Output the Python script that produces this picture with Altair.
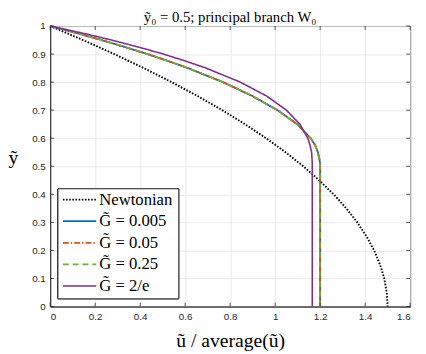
import altair as alt
import pandas as pd

# ---- data ----
series_names = ["Newtonian", "G̃ = 0.005", "G̃ = 0.05", "G̃ = 0.25", "G̃ = 2/e"]

newt_y = [1.0, 0.95, 0.9, 0.85, 0.8, 0.75, 0.7, 0.65, 0.6, 0.55, 0.5,
          0.45, 0.4, 0.35, 0.3, 0.25, 0.2, 0.15, 0.1, 0.05, 0.0]
newt_u = [0.0, 0.146, 0.285, 0.416, 0.54, 0.656, 0.765, 0.866, 0.96, 1.046, 1.125,
          1.196, 1.26, 1.316, 1.365, 1.406, 1.44, 1.466, 1.485, 1.496, 1.5]

g_y = [1.0, 0.975, 0.95, 0.925, 0.9, 0.875, 0.85, 0.8, 0.75, 0.7, 0.65,
       0.6, 0.575, 0.55, 0.525, 0.51, 0.5, 0.0]
g005_u = [0.0, 0.117, 0.228, 0.333, 0.432, 0.525, 0.612, 0.768, 0.9, 1.01, 1.098,
          1.158, 1.178, 1.19, 1.197, 1.199, 1.2, 1.2]
g05_u = [0.0, 0.117, 0.228, 0.333, 0.432, 0.525, 0.612, 0.768, 0.9, 1.01, 1.098,
         1.158, 1.178, 1.19, 1.197, 1.199, 1.2, 1.2]
g25_u = [0.0, 0.118, 0.229, 0.334, 0.433, 0.526, 0.613, 0.769, 0.901, 1.01, 1.097,
         1.157, 1.177, 1.189, 1.196, 1.198, 1.199, 1.199]
g2e_u = [0.0, 0.142, 0.273, 0.393, 0.503, 0.602, 0.693, 0.845, 0.963, 1.05, 1.11,
         1.145, 1.155, 1.162, 1.164, 1.165, 1.165, 1.165]

x_ticks = [0, 0.2, 0.4, 0.6, 0.8, 1.0, 1.2, 1.4, 1.6]
y_ticks = [0, 0.1, 0.2, 0.3, 0.4, 0.5, 0.6, 0.7, 0.8, 0.9, 1.0]

colors = ["#000000", "#0072BD", "#D95319", "#77AC30", "#7E2F8E"]
dashes = [[1.6, 1.6], [1, 0], [6, 2, 1.5, 2], [6, 4], [1, 0]]
widths = [1.9, 1.6, 1.6, 1.6, 2.0]

rows = []
for name, ys, us in [(series_names[0], newt_y, newt_u),
                     (series_names[1], g_y, g005_u),
                     (series_names[2], g_y, g05_u),
                     (series_names[3], g_y, g25_u),
                     (series_names[4], g_y, g2e_u)]:
    for i, (yy, uu) in enumerate(zip(ys, us)):
        rows.append({"series": name, "y": yy, "u": uu, "idx": i})
df = pd.DataFrame(rows)
leg_df = pd.DataFrame({"series": series_names, "row": list(range(len(series_names)))})

W, H = 367, 286
TOP = 15
tick_col = "#262626"

xscale = alt.Scale(domain=[0, 1.6], nice=False, zero=False)
yscale = alt.Scale(domain=[0, 1], nice=False, zero=False)
cscale = alt.Scale(domain=series_names, range=colors)
dscale = alt.Scale(domain=series_names, range=dashes)
wscale = alt.Scale(domain=series_names, range=widths)

x_axis = alt.Axis(values=x_ticks, format=".1~f", title="ũ / average(ũ)", grid=True,
                  tickCount=9)
y_axis = alt.Axis(values=y_ticks, format=".1~f", title="ỹ", grid=True, tickCount=11,
                  labelOverlap=False, titleAngle=0, titleX=-38, titleY=134,
                  titleBaseline="middle", titleAlign="center")

lines = alt.Chart(df).mark_line().encode(
    x=alt.X("u:Q", scale=xscale, axis=x_axis),
    y=alt.Y("y:Q", scale=yscale, axis=y_axis),
    color=alt.Color("series:N", scale=cscale, legend=None),
    strokeDash=alt.StrokeDash("series:N", scale=dscale, legend=None),
    strokeWidth=alt.StrokeWidth("series:N", scale=wscale, legend=None),
    order=alt.Order("idx:Q"),
)

xt = pd.DataFrame({"u": x_ticks})
yt = pd.DataFrame({"y": y_ticks})
xb = alt.Chart(xt).mark_rule(color=tick_col, strokeWidth=0.8).encode(
    x=alt.X("u:Q", scale=xscale, axis=x_axis), y=alt.value(H), y2=alt.value(H - 4))
xtop = alt.Chart(xt).mark_rule(color=tick_col, strokeWidth=0.8).encode(
    x=alt.X("u:Q", scale=xscale, axis=x_axis), y=alt.value(0), y2=alt.value(4))
yl = alt.Chart(yt).mark_rule(color=tick_col, strokeWidth=0.8).encode(
    y=alt.Y("y:Q", scale=yscale, axis=y_axis), x=alt.value(0), x2=alt.value(4))
yr = alt.Chart(yt).mark_rule(color=tick_col, strokeWidth=0.8).encode(
    y=alt.Y("y:Q", scale=yscale, axis=y_axis), x=alt.value(W), x2=alt.value(W - 4))

# legend box, drawn by hand (MATLAB style)
leg_box = alt.Chart(leg_df).mark_rect(fill="white", stroke=tick_col, strokeWidth=0.8).encode(
    x=alt.value(8), x2=alt.value(131), y=alt.value(166), y2=alt.value(278))
leg_base = alt.Chart(leg_df).transform_calculate(ly="177 + 22 * datum.row")
leg_sym = leg_base.mark_rule().encode(
    x=alt.value(13), x2=alt.value(47),
    y=alt.Y("ly:Q", scale=None),
    color=alt.Color("series:N", scale=cscale, legend=None),
    strokeDash=alt.StrokeDash("series:N", scale=dscale, legend=None),
    strokeWidth=alt.StrokeWidth("series:N", scale=wscale, legend=None),
)
leg_txt = leg_base.mark_text(align="left", baseline="middle", font="Liberation Serif",
                             fontSize=17, color="#000000").encode(
    x=alt.value(50), y=alt.Y("ly:Q", scale=None), text="series:N")

chart = alt.layer(lines, xb, xtop, yl, yr, leg_box, leg_sym, leg_txt).properties(
    width=W, height=H,
    title=alt.TitleParams("ỹ₀ = 0.5; principal branch W₀", font="Liberation Serif",
                          fontSize=15, fontWeight="normal", color="#000000",
                          offset=-4),
    autosize=alt.AutoSizeParams(type="none"),
    padding={"left": 43, "top": TOP, "right": 8, "bottom": 45},
).configure_view(
    stroke=tick_col, strokeWidth=1
).configure_axis(
    domainColor=tick_col, domainWidth=1, tickSize=0,
    labelFont="Liberation Sans", labelFontSize=10, labelColor=tick_col,
    labelPadding=5,
    gridColor="#e3e3e3", gridWidth=0.8,
    titleFont="Liberation Serif", titleFontSize=20, titleFontWeight="normal",
    titleColor="#000000",
).configure_axisX(
    titlePadding=10,
)

chart.save("out.html", embed_options={"renderer": "svg", "actions": False})
